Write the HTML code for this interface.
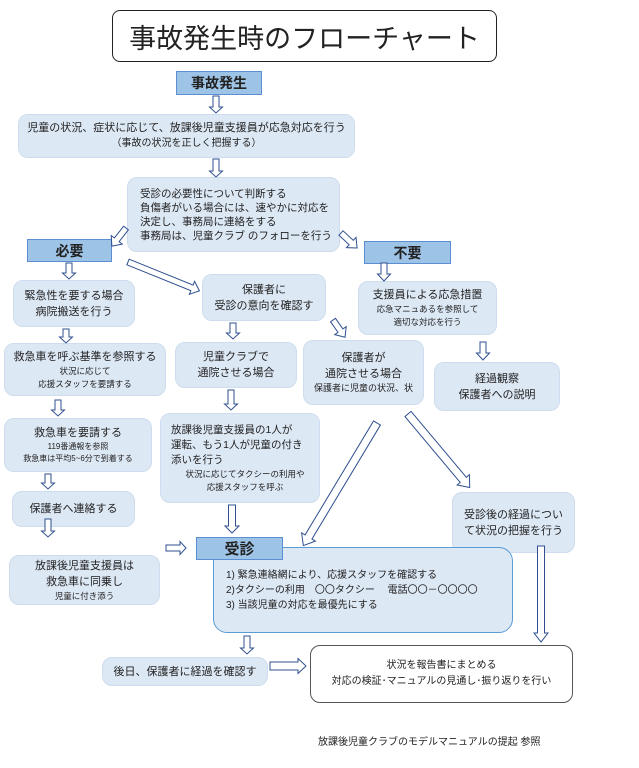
<!DOCTYPE html>
<html><head><meta charset="utf-8"><style>
body{margin:0;width:639px;height:768px;background:#fff;position:relative;overflow:hidden;font-family:"Liberation Sans","Noto Sans CJK JP",sans-serif;color:#222}
.b{position:absolute;background:#dde8f5;border:1px solid #cddcee;border-radius:10px;box-sizing:border-box;display:flex;flex-direction:column;justify-content:center;align-items:center;text-align:center;font-size:11px;line-height:16px}
.s{font-size:8.5px;line-height:13px}
.l{position:absolute;background:#9dc3e6;border:1px solid #5b8fd1;box-sizing:border-box;font-weight:bold;display:flex;align-items:center;justify-content:center;font-size:14px}
svg{position:absolute;left:0;top:0}
</style></head><body>
<div style="position:absolute;left:112px;top:10px;width:385px;height:52px;border:1.5px solid #222;border-radius:8px;box-sizing:border-box;display:flex;align-items:center;justify-content:center;font-size:27px">事故発生時のフローチャート</div>
<div class="l" style="left:176px;top:71px;width:86px;height:24px">事故発生</div>
<div class="b" style="left:18px;top:114px;width:337px;height:44px">児童の状況、症状に応じて、放課後児童支援員が応急対応を行う<span style="font-size:10px">（事故の状況を正しく把握する）</span></div>
<div class="b" style="left:127px;top:177px;width:213px;height:75px;align-items:flex-start;padding-left:12px;text-align:left;font-size:10.5px;line-height:14px">受診の必要性について判断する<br>負傷者がいる場合には、速やかに対応を<br>決定し、事務局に連絡をする<br>事務局は、児童クラブ のフォローを行う</div>
<div class="l" style="left:27px;top:239px;width:85px;height:23px">必要</div>
<div class="l" style="left:364px;top:241px;width:87px;height:23px">不要</div>
<div class="b" style="left:13px;top:280px;width:122px;height:47px">緊急性を要する場合<br>病院搬送を行う</div>
<div class="b" style="left:202px;top:274px;width:124px;height:47px">保護者に<br>受診の意向を確認す</div>
<div class="b" style="left:358px;top:281px;width:139px;height:54px">支援員による応急措置<span class="s">応急マニュあるを参照して<br>適切な対応を行う</span></div>
<div class="b" style="left:4px;top:343px;width:162px;height:53px">救急車を呼ぶ基準を参照する<span class="s">状況に応じて<br>応援スタッフを要請する</span></div>
<div class="b" style="left:175px;top:342px;width:122px;height:46px">児童クラブで<br>通院させる場合</div>
<div class="b" style="left:303px;top:340px;width:121px;height:65px">保護者が<br>通院させる場合<span class="s" style="font-size:9px">保護者に児童の状況、状</span></div>
<div class="b" style="left:434px;top:362px;width:126px;height:49px">経過観察<br>保護者への説明</div>
<div class="b" style="left:4px;top:418px;width:148px;height:54px">救急車を要請する<span class="s" style="font-size:8px;line-height:12px">119番通報を参照<br>救急車は平均5~6分で到着する</span></div>
<div class="b" style="left:160px;top:413px;width:160px;height:90px;align-items:flex-start;padding-left:10px;text-align:left;font-size:10.5px;line-height:15px">放課後児童支援員の1人が<br>運転、もう1人が児童の付き<br>添いを行う<span class="s" style="align-self:center;text-align:center">状況に応じてタクシーの利用や<br>応援スタッフを呼ぶ</span></div>
<div class="b" style="left:12px;top:491px;width:123px;height:36px">保護者へ連絡する</div>
<div class="b" style="left:452px;top:492px;width:123px;height:61px">受診後の経過につい<br>て状況の把握を行う</div>
<div class="b" style="left:9px;top:555px;width:151px;height:50px">放課後児童支援員は<br>救急車に同乗し<span class="s">児童に付き添う</span></div>
<div class="b" style="left:213px;top:547px;width:300px;height:86px;border:1px solid #5b9bd5;border-radius:14px;align-items:flex-start;justify-content:flex-start;padding:20px 0 0 12px;text-align:left;font-size:10px;line-height:15px">1) 緊急連絡網により、応援スタッフを確認する<br>2)タクシーの利用　〇〇タクシー　 電話〇〇－〇〇〇〇<br>3) 当該児童の対応を最優先にする</div>
<div class="l" style="left:196px;top:537px;width:87px;height:23px;font-size:15px">受診</div>
<div class="b" style="left:102px;top:657px;width:166px;height:29px">後日、保護者に経過を確認す</div>
<div class="b" style="left:310px;top:645px;width:263px;height:58px;background:#fff;border:1px solid #555;font-size:10px">状況を報告書にまとめる<br>対応の検証･マニュアルの見通し･振り返りを行い</div>
<div style="position:absolute;left:318px;top:733px;font-size:10px">放課後児童クラブのモデルマニュアルの提起 参照</div>
<svg width="639" height="768" fill="#fff" stroke="#2f4f8f" stroke-width="1">
<g transform="translate(216,96) rotate(90)"><polygon points="0,-3 11,-3 11,-6.5 17,0 11,6.5 11,3 0,3"/></g>
<g transform="translate(216,159) rotate(90)"><polygon points="0,-3 12,-3 12,-6.5 18,0 12,6.5 12,3 0,3"/></g>
<g transform="translate(126,228) rotate(128)"><polygon points="0,-3 15,-3 15,-7 23,0 15,7 15,3 0,3"/></g>
<g transform="translate(341,233) rotate(43)"><polygon points="0,-3 14,-3 14,-7 22,0 14,7 14,3 0,3"/></g>
<g transform="translate(69,263) rotate(90)"><polygon points="0,-3 10,-3 10,-6.5 16,0 10,6.5 10,3 0,3"/></g>
<g transform="translate(128,262) rotate(22)"><polygon points="0,-3 69,-3 69,-7 77,0 69,7 69,3 0,3"/></g>
<g transform="translate(66,329) rotate(90)"><polygon points="0,-3 8,-3 8,-6.5 14,0 8,6.5 8,3 0,3"/></g>
<g transform="translate(58,400) rotate(90)"><polygon points="0,-3 10,-3 10,-6.5 16,0 10,6.5 10,3 0,3"/></g>
<g transform="translate(48,474) rotate(90)"><polygon points="0,-3 9,-3 9,-6.5 15,0 9,6.5 9,3 0,3"/></g>
<g transform="translate(48,519) rotate(90)"><polygon points="0,-3 12,-3 12,-6.5 18,0 12,6.5 12,3 0,3"/></g>
<g transform="translate(166,548)"><polygon points="0,-3 14,-3 14,-6.5 20,0 14,6.5 14,3 0,3"/></g>
<g transform="translate(233,323) rotate(90)"><polygon points="0,-3 10,-3 10,-6.5 16,0 10,6.5 10,3 0,3"/></g>
<g transform="translate(231,390) rotate(90)"><polygon points="0,-3 14,-3 14,-6.5 20,0 14,6.5 14,3 0,3"/></g>
<g transform="translate(232,505) rotate(90)"><polygon points="0,-3.5 21,-3.5 21,-7 28,0 21,7 21,3.5 0,3.5"/></g>
<g transform="translate(333,320) rotate(55)"><polygon points="0,-3 13,-3 13,-7 21,0 13,7 13,3 0,3"/></g>
<g transform="translate(377,423) rotate(121)"><polygon points="0,-4 133,-4 133,-8 143,0 133,8 133,4 0,4"/></g>
<g transform="translate(408,414) rotate(50)"><polygon points="0,-4 86,-4 86,-8 96,0 86,8 86,4 0,4"/></g>
<g transform="translate(384,263) rotate(90)"><polygon points="0,-3 11,-3 11,-6.5 18,0 11,6.5 11,3 0,3"/></g>
<g transform="translate(483,342) rotate(90)"><polygon points="0,-3 11,-3 11,-6.5 18,0 11,6.5 11,3 0,3"/></g>
<g transform="translate(541,546) rotate(90)"><polygon points="0,-3.5 87,-3.5 87,-7 96,0 87,7 87,3.5 0,3.5"/></g>
<g transform="translate(247,636) rotate(90)"><polygon points="0,-3 12,-3 12,-6.5 18,0 12,6.5 12,3 0,3"/></g>
<g transform="translate(270,666)"><polygon points="0,-4 28,-4 28,-7.5 36,0 28,7.5 28,4 0,4"/></g>
</svg>
</body></html>
